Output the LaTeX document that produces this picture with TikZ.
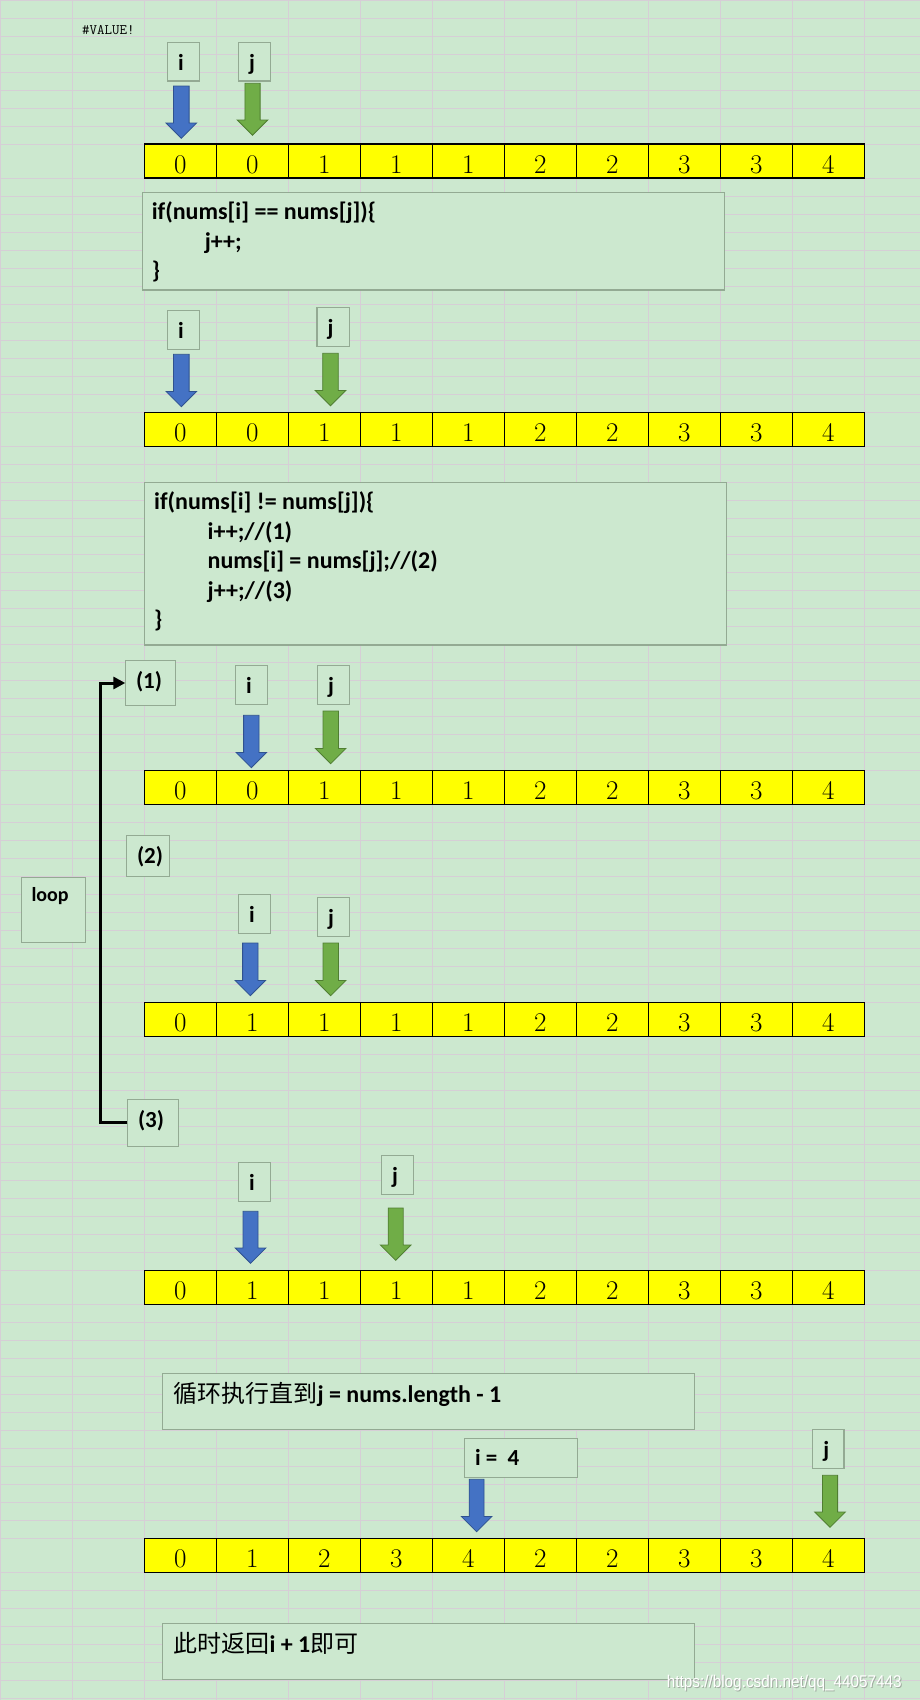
\documentclass[tikz,border=0pt]{standalone}
\usepackage{fontspec}
\usetikzlibrary{arrows.meta}
\newfontfamily\carl{Carlito}
\newfontfamily\cjkf{Noto Sans CJK SC}
\newfontfamily\wmf{Liberation Sans}
\definecolor{bg}{RGB}{204,232,207}
\definecolor{gridc}{RGB}{214,206,214}
\definecolor{boxc}{RGB}{147,170,147}
\definecolor{blueA}{RGB}{68,114,196}
\definecolor{blueB}{RGB}{47,82,143}
\definecolor{greenA}{RGB}{112,173,71}
\definecolor{greenB}{RGB}{80,126,50}
\definecolor{yel}{RGB}{255,255,0}
\definecolor{wmshadow}{RGB}{160,172,160}
\tikzset{
  tb/.style={draw=boxc, line width=1.1pt, fill=bg, inner sep=0pt, outer sep=0pt, anchor=north west},
  lab/.style={font=\carl\bfseries\fontsize{23}{23}\selectfont, inner sep=0pt, anchor=base west},
  codetxt/.style={font=\carl\bfseries\fontsize{24}{24}\selectfont, inner sep=0pt, anchor=base west},
  cell/.style={draw=black, line width=1.3pt, fill=yel, minimum width=72pt, minimum height=34pt,
    inner sep=0pt, outer sep=0pt, anchor=north west, text height=25pt, text depth=0pt,
    font=\fontsize{27}{27}\selectfont},
  loopline/.style={line width=3pt, -{Triangle[length=12pt,width=12pt]}},
}
% fill, draw, x centre, top, tip, shaft half width
\newcommand\blockarrow[6]{%
  \filldraw[fill=#1,draw=#2,line width=0.8pt] ({#3-#6},#4) -- ({#3+#6},#4) -- ({#3+#6},{#5-15.3}) --
  ({#3+15.3},{#5-15.3}) -- (#3,#5) -- ({#3-15.3},{#5-15.3}) -- ({#3-#6},{#5-15.3}) -- cycle;}
% [baseline offset] name x1 y1 x2 y2 text
\newcommand\lbox[7][28]{%
  \node[tb, minimum width={#5-#3}, minimum height={#6-#4}] (#2) at (#3,#4) {};
  \node[lab] (#2t) at ([xshift=10.5pt,yshift=-#1pt]#2.north west) {#7};}
\newcommand\emptybox[5]{%
  \node[tb, minimum width={#4-#2}, minimum height={#5-#3}] (#1) at (#2,#3) {};}
\newcommand\arr[3]{%
  \foreach \v [count=\k from 0] in {#3} {\node[cell] (#1c\k) at ({144.3+72*\k},#2) {\v};}}
\begin{document}
\begin{tikzpicture}[x=1pt,y=-1pt]
\useasboundingbox (0,0) rectangle (920,1700);
\fill[bg] (0,0) rectangle (920,1700);
% grid
\foreach \s/\n in {0/8,178.3/13,446.3/18,804.3/11,1036.3/13,1304.3/13,1572.3/7}{
  \foreach \k in {0,...,\n}{\draw[gridc,line width=1pt] (0,{\s+18*\k}) -- (920,{\s+18*\k});}}
\foreach \k in {0,...,12}{\draw[gridc,line width=1pt] ({0.7+72*\k},0) -- ({0.7+72*\k},1700);}

\node[inner sep=0pt, anchor=base west, font=\ttfamily\fontsize{14.5}{14.5}\selectfont] (val) at (82,34) {\#VALUE!};

% ---- panel 1
\lbox{i1}{167.3}{42.3}{199.3}{81}{i}
\lbox{j1}{238.3}{42.3}{270.3}{81}{j}
\blockarrow{blueA}{blueB}{181.3}{86}{138.3}{7.8}
\blockarrow{greenA}{greenB}{252.5}{83.3}{135.3}{7.6}
\arr{a1}{144}{0,0,1,1,1,2,2,3,3,4}

\emptybox{code1}{142.6}{192.3}{724.3}{290}
\node[codetxt] (code1a) at ([xshift=9pt,yshift=-27.5pt]code1.north west) {if(nums[i] == nums[j])\{};
\node[codetxt] (code1b) at ([xshift=62pt,yshift=-57pt]code1.north west) {j++;};
\node[codetxt] (code1c) at ([xshift=9pt,yshift=-86.5pt]code1.north west) {\}};

% ---- panel 2
\lbox{i2}{167.3}{310.3}{199.7}{349.3}{i}
\lbox{j2}{317}{307.3}{349.7}{346.7}{j}
\blockarrow{blueA}{blueB}{181.3}{354.3}{406.7}{7.8}
\blockarrow{greenA}{greenB}{330.5}{353.3}{405.7}{7.8}
\arr{a2}{412.3}{0,0,1,1,1,2,2,3,3,4}

\emptybox{code2}{144.5}{482.3}{726.2}{645}
\node[codetxt] (code2a) at ([xshift=9.5pt,yshift=-27.5pt]code2.north west) {if(nums[i] != nums[j])\{};
\node[codetxt] (code2b) at ([xshift=63pt,yshift=-57pt]code2.north west) {i++;//(1)};
\node[codetxt] (code2c) at ([xshift=63pt,yshift=-86.5pt]code2.north west) {nums[i] = nums[j];//(2)};
\node[codetxt] (code2d) at ([xshift=63pt,yshift=-116pt]code2.north west) {j++;//(3)};
\node[codetxt] (code2e) at ([xshift=9.5pt,yshift=-145.5pt]code2.north west) {\}};

% ---- loop markers
\lbox{p1}{125.3}{660.7}{175.3}{705.3}{(1)}
\lbox{p2}{126.3}{835.3}{169.3}{876.3}{(2)}
\lbox{p3}{127.3}{1099.3}{178.7}{1146.3}{(3)}
\emptybox{loopb}{21.3}{877.3}{85.3}{942.3}
\node[lab, font=\carl\bfseries\fontsize{20}{20}\selectfont] (loopt) at ([xshift=10pt,yshift=-24.5pt]loopb.north west) {loop};
\draw[loopline] (p3.west) -- ++(-27.3,0) |- (p1.west);

% ---- panel 3
\lbox{i3}{235.3}{665.3}{267.7}{704.3}{i}
\lbox{j3}{317.3}{665.3}{349.7}{704.3}{j}
\blockarrow{blueA}{blueB}{251.3}{715.3}{767.7}{7.7}
\blockarrow{greenA}{greenB}{330.7}{711}{763.7}{7.7}
\arr{a3}{770.3}{0,0,1,1,1,2,2,3,3,4}

% ---- panel 4
\lbox{i4}{238.3}{894.3}{270.7}{933.3}{i}
\lbox{j4}{317.3}{897.3}{349.7}{936.3}{j}
\blockarrow{blueA}{blueB}{250.3}{943}{995.7}{7.7}
\blockarrow{greenA}{greenB}{330.7}{943}{995.7}{7.7}
\arr{a4}{1002.3}{0,1,1,1,1,2,2,3,3,4}

% ---- panel 5
\lbox{i5}{238.3}{1162.3}{270.7}{1201.3}{i}
\lbox{j5}{381.3}{1155.3}{413.3}{1194.3}{j}
\blockarrow{blueA}{blueB}{250.5}{1211.3}{1263.3}{7.5}
\blockarrow{greenA}{greenB}{395.7}{1208}{1260.3}{7.5}
\arr{a5}{1270.3}{0,1,1,1,1,2,2,3,3,4}

% ---- final
\emptybox{cn1}{162.3}{1373.3}{694.7}{1429.3}
\node[inner sep=0pt, anchor=base west] (cn1t) at ([xshift=11pt,yshift=-29pt]cn1.north west)
  {\cjkf\fontsize{24}{24}\selectfont 循环执行直到{\carl\bfseries j = nums.length - 1}};
\lbox[27]{i6}{464.3}{1438.3}{577.3}{1477.3}{i = \ 4}
\lbox{j6}{812.6}{1429.3}{844}{1468.3}{j}
\blockarrow{blueA}{blueB}{476.6}{1479.3}{1531.7}{7.4}
\blockarrow{greenA}{greenB}{830}{1475.3}{1527.3}{7.6}
\arr{a6}{1538.3}{0,1,2,3,4,2,2,3,3,4}

\emptybox{cn2}{162.3}{1623.3}{694.7}{1679.3}
\node[inner sep=0pt, anchor=base west] (cn2t) at ([xshift=11pt,yshift=-29pt]cn2.north west)
  {\cjkf\fontsize{24}{24}\selectfont 此时返回{\carl\bfseries i + 1}即可};

% watermark
\node[inner sep=0pt, anchor=base west, text=wmshadow, font=\wmf\fontsize{17}{17}\selectfont] (wms) at (667.7,1688.3) {\scalebox{0.9}[1]{https://blog.csdn.net/qq\_44057443}};
\node[inner sep=0pt, anchor=base west, text=white, font=\wmf\fontsize{17}{17}\selectfont] (wm) at (666.7,1687.3) {\scalebox{0.9}[1]{https://blog.csdn.net/qq\_44057443}};
\end{tikzpicture}
\end{document}
